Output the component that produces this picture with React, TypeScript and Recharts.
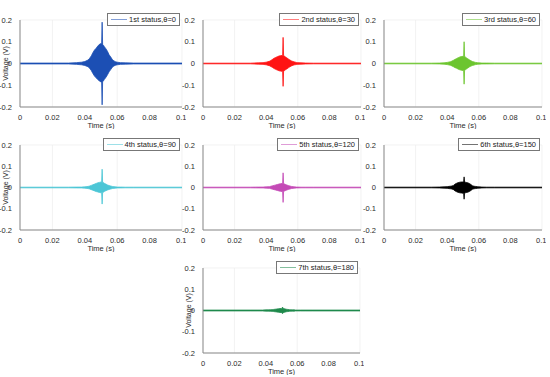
import { AreaChart, Area, XAxis, YAxis, CartesianGrid, Legend } from "recharts";

// sample times of the envelope (s)
const times = [0, 0.03, 0.035, 0.038, 0.04, 0.042, 0.043, 0.044, 0.045, 0.046, 0.047, 0.048, 0.049, 0.05, 0.0504, 0.0507, 0.051, 0.0515, 0.052, 0.053, 0.054, 0.055, 0.056, 0.057, 0.058, 0.059, 0.06, 0.062, 0.065, 0.07, 0.1];

// upper / lower envelope of each recorded voltage (V)
const hi1 = [0.002, 0.002, 0.004, 0.006, 0.009, 0.016, 0.024, 0.035, 0.05, 0.062, 0.07, 0.08, 0.088, 0.092, 0.09, 0.19, 0.088, 0.084, 0.078, 0.068, 0.056, 0.04, 0.03, 0.018, 0.012, 0.008, 0.006, 0.004, 0.003, 0.002, 0.002];
const lo1 = [-0.002, -0.002, -0.004, -0.006, -0.009, -0.015, -0.022, -0.032, -0.046, -0.058, -0.066, -0.074, -0.08, -0.085, -0.085, -0.19, -0.084, -0.08, -0.074, -0.064, -0.052, -0.038, -0.028, -0.017, -0.011, -0.008, -0.006, -0.004, -0.003, -0.002, -0.002];
const hi2 = [0.0015, 0.0015, 0.003, 0.004, 0.006, 0.01, 0.014, 0.019, 0.024, 0.028, 0.031, 0.034, 0.036, 0.037, 0.036, 0.12, 0.036, 0.034, 0.031, 0.026, 0.021, 0.016, 0.012, 0.009, 0.007, 0.005, 0.004, 0.003, 0.002, 0.0015, 0.0015];
const lo2 = [-0.0015, -0.0015, -0.003, -0.004, -0.006, -0.01, -0.014, -0.018, -0.023, -0.027, -0.03, -0.033, -0.035, -0.036, -0.035, -0.105, -0.035, -0.033, -0.03, -0.025, -0.02, -0.015, -0.011, -0.008, -0.006, -0.005, -0.004, -0.003, -0.002, -0.0015, -0.0015];
const hi3 = [0.0015, 0.0015, 0.002, 0.003, 0.005, 0.008, 0.011, 0.015, 0.019, 0.023, 0.027, 0.03, 0.032, 0.033, 0.032, 0.1, 0.032, 0.03, 0.027, 0.022, 0.017, 0.013, 0.009, 0.007, 0.005, 0.004, 0.003, 0.002, 0.002, 0.0015, 0.0015];
const lo3 = [-0.0015, -0.0015, -0.002, -0.003, -0.005, -0.008, -0.011, -0.015, -0.019, -0.022, -0.026, -0.029, -0.031, -0.032, -0.031, -0.095, -0.031, -0.029, -0.026, -0.021, -0.016, -0.012, -0.009, -0.007, -0.005, -0.004, -0.003, -0.002, -0.002, -0.0015, -0.0015];
const hi4 = [0.0015, 0.0015, 0.002, 0.002, 0.003, 0.005, 0.007, 0.01, 0.013, 0.016, 0.019, 0.022, 0.024, 0.026, 0.025, 0.086, 0.025, 0.023, 0.02, 0.016, 0.012, 0.009, 0.007, 0.005, 0.004, 0.003, 0.002, 0.002, 0.0015, 0.0015, 0.0015];
const lo4 = [-0.0015, -0.0015, -0.002, -0.002, -0.003, -0.005, -0.007, -0.01, -0.013, -0.016, -0.019, -0.021, -0.023, -0.025, -0.024, -0.078, -0.024, -0.022, -0.019, -0.015, -0.012, -0.009, -0.007, -0.005, -0.004, -0.003, -0.002, -0.002, -0.0015, -0.0015, -0.0015];
const hi5 = [0.0015, 0.0015, 0.002, 0.002, 0.003, 0.004, 0.006, 0.008, 0.01, 0.012, 0.014, 0.016, 0.018, 0.019, 0.019, 0.069, 0.019, 0.017, 0.015, 0.012, 0.009, 0.007, 0.005, 0.004, 0.003, 0.002, 0.002, 0.0015, 0.0015, 0.0015, 0.0015];
const lo5 = [-0.0015, -0.0015, -0.002, -0.002, -0.003, -0.004, -0.006, -0.008, -0.01, -0.012, -0.014, -0.016, -0.018, -0.019, -0.019, -0.07, -0.019, -0.017, -0.015, -0.012, -0.009, -0.007, -0.005, -0.004, -0.003, -0.002, -0.002, -0.0015, -0.0015, -0.0015, -0.0015];
const hi6 = [0.0015, 0.0015, 0.002, 0.003, 0.004, 0.006, 0.007, 0.01, 0.016, 0.02, 0.023, 0.025, 0.026, 0.026, 0.026, 0.05, 0.026, 0.025, 0.024, 0.022, 0.019, 0.014, 0.008, 0.006, 0.005, 0.004, 0.003, 0.002, 0.0015, 0.0015, 0.0015];
const lo6 = [-0.0015, -0.0015, -0.002, -0.003, -0.004, -0.006, -0.007, -0.01, -0.016, -0.02, -0.023, -0.025, -0.026, -0.027, -0.027, -0.055, -0.027, -0.025, -0.024, -0.022, -0.019, -0.014, -0.008, -0.006, -0.005, -0.004, -0.003, -0.002, -0.0015, -0.0015, -0.0015];
const hi7 = [0.002, 0.002, 0.002, 0.002, 0.003, 0.003, 0.004, 0.004, 0.005, 0.006, 0.007, 0.008, 0.009, 0.01, 0.01, 0.016, 0.01, 0.009, 0.008, 0.006, 0.005, 0.004, 0.003, 0.003, 0.003, 0.002, 0.002, 0.002, 0.002, 0.002, 0.002];
const lo7 = [-0.002, -0.002, -0.002, -0.002, -0.003, -0.003, -0.004, -0.004, -0.005, -0.006, -0.007, -0.008, -0.009, -0.01, -0.01, -0.015, -0.01, -0.009, -0.008, -0.006, -0.005, -0.004, -0.003, -0.003, -0.003, -0.002, -0.002, -0.002, -0.002, -0.002, -0.002];

const labels = ["1st status,θ=0", "2nd status,θ=30", "3rd status,θ=60", "4th status,θ=90", "5th status,θ=120", "6th status,θ=150", "7th status,θ=180"];
const xTicks = [0, 0.02, 0.04, 0.06, 0.08, 0.1];
const yTicks = [-0.2, -0.1, 0, 0.1, 0.2];

const colors = ["#1c4fb4", "#ff1414", "#6cc52f", "#4cc6d6", "#c44ab6", "#000000", "#1f8a4c"];

const highs = [hi1, hi2, hi3, hi4, hi5, hi6, hi7];
const lows = [lo1, lo2, lo3, lo4, lo5, lo6, lo7];

// plot-area boxes [left, top, width, height]
const boxes = [
  [20, 7, 162, 100],
  [203, 7, 158, 100],
  [384, 7, 158, 100],
  [20, 132, 162, 98],
  [203, 132, 158, 98],
  [384, 132, 158, 98],
  [203, 255, 157, 98],
];
const withYLabel = [true, false, false, true, false, false, true];

const font = "'Liberation Sans', Arial, sans-serif";
const tickStyle = { fontSize: 7.5, fill: "#2b2b2b", fontFamily: font };
const AXW = 30;

const Panel = ({ i }: { i: number }) => {
  const [l, t, w, h] = boxes[i];
  const data = times.map((tt, k) => ({ t: tt, v: [lows[i][k], highs[i][k]] }));
  const color = colors[i];
  const yLabel = (props: any) => {
    const vb = props.viewBox || {};
    const cx = (vb.x || 0) + 15;
    const cy = (vb.y || 0) + (vb.height || 0) / 2;
    return (
      <text
        x={cx}
        y={cy}
        transform={`rotate(-90 ${cx} ${cy})`}
        textAnchor="middle"
        dominantBaseline="central"
        fontSize={7}
        fill="#2b2b2b"
        fontFamily={font}
      >
        Voltage (V)
      </text>
    );
  };
  return (
    <div style={{ position: "absolute", left: l - AXW, top: t - 7 }}>
      <AreaChart width={w + AXW + 4} height={h + 7 + 22} data={data} margin={{ top: 7, right: 4, left: 0, bottom: 0 }}>
        <CartesianGrid stroke="#ececec" strokeWidth={0.7} />
        <XAxis
          dataKey="t"
          type="number"
          domain={[0, 0.1]}
          ticks={xTicks}
          tickFormatter={(v) => String(v)}
          tick={tickStyle}
          tickLine={false}
          tickMargin={2}
          height={22}
          stroke="#8a8a8a"
          label={{ value: "Time (s)", position: "insideBottom", offset: 1, style: tickStyle }}
        />
        <XAxis xAxisId="top" orientation="top" dataKey="t" type="number" domain={[0, 0.1]} tick={false} tickLine={false} height={0} stroke="#8a8a8a" />
        <YAxis
          type="number"
          domain={[-0.2, 0.2]}
          ticks={yTicks}
          tickFormatter={(v) => String(v)}
          tick={tickStyle}
          tickLine={false}
          tickMargin={2}
          width={AXW}
          stroke="#8a8a8a"
          label={withYLabel[i] ? yLabel : undefined}
        />
        <YAxis yAxisId="right" orientation="right" domain={[-0.2, 0.2]} tick={false} tickLine={false} width={0} stroke="#8a8a8a" />
        <Area
          type="linear"
          dataKey="v"
          stroke={color}
          strokeWidth={0.8}
          fill={color}
          fillOpacity={1}
          isAnimationActive={false}
        />
        <Legend
          verticalAlign="top"
          align="right"
          wrapperStyle={{ top: 13, right: 6, width: "auto" }}
          content={() => (
            <div
              style={{
                display: "flex",
                alignItems: "center",
                background: "#fff",
                border: "1px solid #777",
                padding: "1px 3px 1px 3px",
                fontFamily: font,
                fontSize: 7.5,
                color: "#222",
                whiteSpace: "nowrap",
                lineHeight: "9px",
              }}
            >
              <span style={{ display: "inline-block", width: 16, height: 1.5, background: color, opacity: 0.55, marginRight: 2 }} />
              {labels[i]}
            </div>
          )}
        />
      </AreaChart>
    </div>
  );
}

export default function App() {
  return (
    <div style={{ position: "absolute", left: 0, top: 0, width: 550, height: 377, background: "#fff", overflow: "hidden" }}>
      {boxes.map((_, i) => (
        <Panel key={i} i={i} />
      ))}
    </div>
  );
}
